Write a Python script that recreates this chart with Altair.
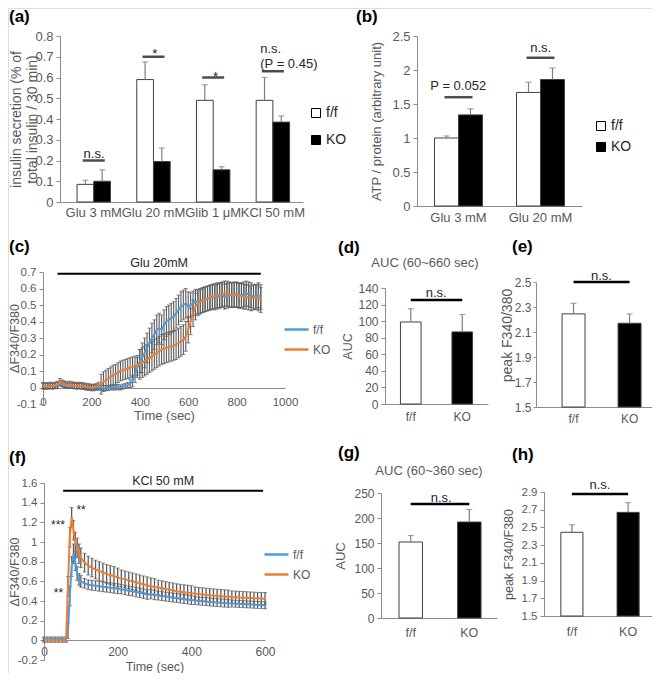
import altair as alt
import pandas as pd

FONT = "Liberation Sans"
TXT = "#595959"
DARK = "#262626"
AXC = "#8C8C8C"
ERRC = "#7F7F7F"
TSERR = "#5A5A5A"
BARSTROKE = "#404040"
BLUE = "#4C9BE0"
ORANGE = "#ED7D31"
W, H, M = 644, 665, 8
NUM_LABEL = "'' + datum.value"


def c(p):
    return p - M


genotypes = ["f/f", "KO"]
bar_colors = ["#FFFFFF", "#000000"]
line_colors = [BLUE, ORANGE]

# ---------------- (a) insulin secretion ----------------
a_conditions = ["Glu 3 mM", "Glu 20 mM", "Glib 1 \u03bcM", "KCl 50 mM"]
a_ff_mean = [0.085, 0.59, 0.49, 0.49]
a_ff_err = [0.02, 0.085, 0.075, 0.11]
a_ko_mean = [0.10, 0.195, 0.155, 0.385]
a_ko_err = [0.055, 0.065, 0.015, 0.03]
a_yticks = [0, 0.1, 0.2, 0.3, 0.4, 0.5, 0.6, 0.7, 0.8]
a_sig_line_y = [0.20, 0.70, 0.60, 0.63]
a_sig_text = ["n.s.", "*", "*"]
a_sig_text_y = [0.212, 0.692, 0.583]
a_kcl_text = ["n.s.", "(P = 0.45)"]
a_kcl_text_y = [0.716, 0.648]

# ---------------- (b) ATP / protein ----------------
b_conditions = ["Glu 3 mM", "Glu 20 mM"]
b_ff_mean = [1.0, 1.67]
b_ff_err = [0.03, 0.15]
b_ko_mean = [1.34, 1.86]
b_ko_err = [0.09, 0.17]
b_yticks = [0, 0.5, 1, 1.5, 2, 2.5]
b_sig_line_y = [1.60, 2.18]
b_sig_text = ["P = 0.052", "n.s."]
b_sig_text_y = [1.71, 2.26]

# ---------------- (c) Glu 20mM time course (10 s samples) ----------------
c_time = [0, 10, 20, 30, 40, 50, 60, 70, 80, 90,
          100, 110, 120, 130, 140, 150, 160, 170, 180, 190,
          200, 210, 220, 230, 240, 250, 260, 270, 280, 290,
          300, 310, 320, 330, 340, 350, 360, 370, 380, 390,
          400, 410, 420, 430, 440, 450, 460, 470, 480, 490,
          500, 510, 520, 530, 540, 550, 560, 570, 580, 590,
          600, 610, 620, 630, 640, 650, 660, 670, 680, 690,
          700, 710, 720, 730, 740, 750, 760, 770, 780, 790,
          800, 810, 820, 830, 840, 850, 860, 870, 880, 890,
          900]
c_ff = [0.01, 0.012, 0.01, 0.008, 0.01, 0.012, 0.02, 0.025, 0.02, 0.015,
        0.01, 0.012, 0.01, 0.01, 0.01, 0.008, 0.01, 0.005, 0.0, 0.0,
        0.0, 0.002, 0.0, 0.0, 0.0, -0.003, -0.005, -0.003, 0.0, 0.0,
        0.0, 0.002, 0.0, 0.005, 0.01, 0.015, 0.025, 0.04, 0.08, 0.12,
        0.16, 0.18, 0.21, 0.24, 0.27, 0.30, 0.32, 0.35, 0.36, 0.35,
        0.38, 0.40, 0.41, 0.42, 0.43, 0.45, 0.47, 0.49, 0.50, 0.51,
        0.49, 0.50, 0.51, 0.52, 0.52, 0.525, 0.53, 0.535, 0.54, 0.545,
        0.55, 0.545, 0.55, 0.555, 0.56, 0.55, 0.555, 0.56, 0.56, 0.565,
        0.565, 0.56, 0.56, 0.565, 0.57, 0.565, 0.56, 0.55, 0.55, 0.56,
        0.55]
c_ff_err = [0.015, 0.015, 0.015, 0.015, 0.015, 0.015, 0.015, 0.015, 0.015, 0.015,
            0.015, 0.015, 0.015, 0.015, 0.015, 0.015, 0.015, 0.015, 0.015, 0.015,
            0.015, 0.015, 0.015, 0.015, 0.015, 0.015, 0.015, 0.015, 0.015, 0.015,
            0.015, 0.015, 0.015, 0.015, 0.015, 0.015, 0.025, 0.035, 0.05, 0.06,
            0.07, 0.09, 0.09, 0.09, 0.09, 0.09, 0.09, 0.09, 0.09, 0.09,
            0.09, 0.09, 0.09, 0.09, 0.09, 0.09, 0.09, 0.09, 0.09, 0.09,
            0.09, 0.075, 0.075, 0.075, 0.075, 0.075, 0.075, 0.075, 0.075, 0.075,
            0.075, 0.075, 0.075, 0.075, 0.075, 0.075, 0.075, 0.075, 0.075, 0.075,
            0.075, 0.075, 0.075, 0.075, 0.075, 0.075, 0.075, 0.075, 0.075, 0.075,
            0.075]
c_ko = [0.01, 0.008, 0.01, 0.012, 0.01, 0.012, 0.015, 0.035, 0.025, 0.02,
        0.015, 0.018, 0.015, 0.012, 0.01, 0.012, 0.01, 0.008, 0.005, 0.003,
        0.0, 0.0, 0.005, 0.012, 0.02, 0.035, 0.045, 0.055, 0.065, 0.075,
        0.08, 0.09, 0.10, 0.105, 0.11, 0.115, 0.12, 0.125, 0.13, 0.135,
        0.14, 0.15, 0.16, 0.17, 0.18, 0.19, 0.20, 0.21, 0.22, 0.23,
        0.235, 0.24, 0.245, 0.25, 0.255, 0.26, 0.27, 0.28, 0.29, 0.31,
        0.35, 0.40, 0.45, 0.49, 0.51, 0.52, 0.53, 0.535, 0.54, 0.545,
        0.55, 0.555, 0.56, 0.56, 0.565, 0.57, 0.57, 0.565, 0.56, 0.56,
        0.56, 0.555, 0.555, 0.55, 0.55, 0.545, 0.54, 0.545, 0.55, 0.54,
        0.53]
c_ko_err = [0.02, 0.02, 0.02, 0.02, 0.02, 0.02, 0.02, 0.02, 0.02, 0.02,
            0.02, 0.02, 0.02, 0.02, 0.02, 0.02, 0.02, 0.02, 0.02, 0.02,
            0.02, 0.02, 0.02, 0.02, 0.06, 0.06, 0.06, 0.06, 0.06, 0.06,
            0.06, 0.06, 0.06, 0.06, 0.06, 0.06, 0.06, 0.06, 0.06, 0.06,
            0.09, 0.09, 0.09, 0.09, 0.09, 0.09, 0.09, 0.09, 0.09, 0.09,
            0.09, 0.09, 0.09, 0.09, 0.09, 0.09, 0.09, 0.09, 0.09, 0.09,
            0.08, 0.08, 0.08, 0.08, 0.075, 0.075, 0.075, 0.075, 0.075, 0.075,
            0.075, 0.075, 0.075, 0.075, 0.075, 0.075, 0.075, 0.075, 0.075, 0.075,
            0.075, 0.075, 0.075, 0.075, 0.075, 0.075, 0.075, 0.075, 0.075, 0.075,
            0.075]
c_xticks = [0, 200, 400, 600, 800, 1000]
c_yticks = [-0.1, 0, 0.1, 0.2, 0.3, 0.4, 0.5, 0.6, 0.7]
c_stim_label = "Glu 20mM"
c_stim_t = [60, 900]
c_stim_y = 0.69

# ---------------- (d) AUC 60~660 ----------------
d_mean = [99, 87]
d_err = [16, 21]
d_yticks = [0, 20, 40, 60, 80, 100, 120, 140]
d_sig_y = 125.5
d_sig_text_y = 128.7

# ---------------- (e) peak ----------------
e_mean = [2.245, 2.17]
e_err = [0.085, 0.075]
e_yticks = [1.5, 1.7, 1.9, 2.1, 2.3, 2.5]
e_sig_y = 2.5
e_sig_text_y = 2.516

# ---------------- (f) KCl 50 mM time course ----------------
f_time = [0, 10, 20, 30, 40, 50, 60, 65, 70, 75, 80, 85, 90, 95, 100,
          110, 120, 130, 140, 150, 160, 170, 180, 190, 200,
          210, 220, 230, 240, 250, 260, 270, 280, 290, 300,
          310, 320, 330, 340, 350, 360, 370, 380, 390, 400,
          410, 420, 430, 440, 450, 460, 470, 480, 490, 500,
          510, 520, 530, 540, 550, 560, 570, 580, 590, 600]
f_ff = [0.015, 0.015, 0.015, 0.015, 0.015, 0.015, 0.015, 0.10, 0.45, 0.75, 0.88, 0.80, 0.68, 0.62, 0.60,
        0.58, 0.565, 0.56, 0.555, 0.55, 0.545, 0.54, 0.535, 0.53, 0.525,
        0.52, 0.512, 0.505, 0.498, 0.49, 0.483, 0.475, 0.465, 0.47, 0.462,
        0.455, 0.45, 0.445, 0.44, 0.435, 0.43, 0.425, 0.42, 0.415, 0.41,
        0.405, 0.40, 0.397, 0.394, 0.39, 0.387, 0.384, 0.381, 0.378, 0.376,
        0.374, 0.372, 0.37, 0.368, 0.366, 0.364, 0.362, 0.36, 0.358, 0.356]
f_ff_err = [0.02, 0.02, 0.02, 0.02, 0.02, 0.02, 0.02, 0.08, 0.1, 0.1, 0.1, 0.09, 0.07, 0.06, 0.06,
            0.05, 0.05, 0.05, 0.05, 0.05, 0.05, 0.05, 0.05, 0.05, 0.05,
            0.048, 0.048, 0.048, 0.048, 0.048, 0.048, 0.048, 0.048, 0.048, 0.048,
            0.045, 0.045, 0.045, 0.045, 0.045, 0.045, 0.045, 0.045, 0.045, 0.045,
            0.04, 0.04, 0.04, 0.04, 0.04, 0.04, 0.04, 0.04, 0.04, 0.04,
            0.035, 0.035, 0.035, 0.035, 0.035, 0.035, 0.035, 0.035, 0.035, 0.035]
f_ko = [0.0, 0.0, 0.0, 0.0, 0.0, 0.0, 0.0, 0.55, 1.05, 1.25, 1.12, 1.0, 0.94, 0.88, 0.84,
        0.79, 0.76, 0.74, 0.72, 0.705, 0.69, 0.675, 0.665, 0.655, 0.64,
        0.63, 0.62, 0.61, 0.60, 0.59, 0.58, 0.57, 0.56, 0.55, 0.542,
        0.537, 0.53, 0.522, 0.515, 0.508, 0.50, 0.495, 0.49, 0.485, 0.48,
        0.475, 0.47, 0.466, 0.462, 0.458, 0.455, 0.452, 0.449, 0.446, 0.443,
        0.44, 0.438, 0.436, 0.434, 0.432, 0.43, 0.428, 0.426, 0.425, 0.424]
f_ko_err = [0.02, 0.02, 0.02, 0.02, 0.02, 0.02, 0.02, 0.1, 0.1, 0.1, 0.1, 0.1, 0.1, 0.1, 0.1,
            0.095, 0.095, 0.095, 0.095, 0.095, 0.095, 0.095, 0.095, 0.095, 0.095,
            0.085, 0.085, 0.085, 0.085, 0.085, 0.085, 0.085, 0.085, 0.085, 0.085,
            0.075, 0.075, 0.075, 0.075, 0.075, 0.075, 0.075, 0.075, 0.075, 0.075,
            0.068, 0.068, 0.068, 0.068, 0.068, 0.068, 0.068, 0.068, 0.068, 0.068,
            0.062, 0.062, 0.062, 0.062, 0.062, 0.062, 0.062, 0.062, 0.062, 0.062]
f_xticks = [0, 200, 400, 600]
f_yticks = [-0.2, 0, 0.2, 0.4, 0.6, 0.8, 1, 1.2, 1.4, 1.6]
f_stim_label = "KCl 50 mM"
f_stim_t = [52, 595]
f_stim_y = 1.52
f_star_left_text = ["***", "**"]
f_star_left_t = [57, 52]
f_star_left_y = [1.17, 0.48]
f_star_right_text = ["**"]
f_star_right_t = [88]
f_star_right_y = [1.33]

# ---------------- (g) AUC 60~360 ----------------
g_mean = [152, 192]
g_err = [13, 25]
g_yticks = [0, 50, 100, 150, 200, 250]
g_sig_y = 228
g_sig_text_y = 233

# ---------------- (h) peak ----------------
h_mean = [2.445, 2.67]
h_err = [0.085, 0.11]
h_yticks = [1.5, 1.7, 1.9, 2.1, 2.3, 2.5, 2.7, 2.9]
h_sig_y = 2.877
h_sig_text_y = 2.934


# ======================= helpers =======================
def y_axis(x_page, ticks, title, title_x, title_size, label_size, title_y=None,
           line_height=None, label_pad=3, tick_size=4):
    kw = dict(orient="left", offset=-c(x_page), values=ticks, title=title, titleX=title_x,
              titleFont=FONT, titleFontSize=title_size, titleFontWeight="normal",
              titleColor=TXT, titleBaseline="bottom",
              labelFont=FONT, labelFontSize=label_size, labelColor=TXT,
              labelPadding=label_pad, labelExpr=NUM_LABEL,
              tickSize=tick_size, tickColor=AXC, domainColor=AXC, grid=False)
    if title_y is not None:
        kw["titleY"] = title_y
    if line_height is not None:
        kw["titleLineHeight"] = line_height
    return alt.Axis(**kw)


def x_axis(y_page, label_size, label_pad, ticks=None, title=None, title_size=13, title_y=None):
    kw = dict(orient="bottom", offset=c(y_page) - H, ticks=False, labelAngle=0,
              labelFont=FONT, labelFontSize=label_size, labelColor=TXT,
              labelPadding=label_pad, domainColor=AXC, grid=False)
    if ticks is not None:
        kw["values"] = ticks
        kw["labelFlush"] = False
        kw["labelExpr"] = NUM_LABEL
    if title:
        kw.update(title=title, titleFont=FONT, titleFontSize=title_size,
                  titleFontWeight="normal", titleColor=TXT, titleY=title_y,
                  titleBaseline="top")
    else:
        kw["title"] = None
    return alt.Axis(**kw)


def grouped_bar_units(cats, ff_mean, ff_err, ko_mean, ko_err, xr, pin, pout, align,
                      yr, ydom, yax, xax, legend, cap):
    rows = []
    for i, k in enumerate(cats):
        rows.append({"cond": k, "geno": "f/f", "mean": ff_mean[i], "err": ff_err[i]})
        rows.append({"cond": k, "geno": "KO", "mean": ko_mean[i], "err": ko_err[i]})
    df = pd.DataFrame(rows)
    xs = alt.Scale(domain=cats, range=[c(xr[0]), c(xr[1])], paddingInner=pin,
                   paddingOuter=pout, align=align)
    ys = alt.Scale(domain=ydom, range=[c(yr[0]), c(yr[1])], nice=False, zero=False)
    os_ = alt.Scale(domain=genotypes)
    fs = alt.Scale(domain=genotypes, range=bar_colors)
    base = alt.Chart(df)
    bars = base.mark_bar(stroke=BARSTROKE, strokeWidth=1).encode(
        x=alt.X("cond:N", scale=xs, axis=xax),
        xOffset=alt.XOffset("geno:N", scale=os_),
        y=alt.Y("mean:Q", scale=ys, axis=yax),
        y2=alt.datum(ydom[0]),
        fill=alt.Fill("geno:N", scale=fs, legend=legend),
    )
    ebase = base.transform_calculate(top="datum.mean + datum.err")
    err = ebase.mark_rule(color=ERRC, strokeWidth=1.2).encode(
        x=alt.X("cond:N", scale=xs, axis=None),
        xOffset=alt.XOffset("geno:N", scale=os_),
        y=alt.Y("mean:Q", scale=ys, axis=None),
        y2="top:Q",
    )
    caps = ebase.mark_tick(orient="horizontal", color=ERRC, size=cap, thickness=1.2).encode(
        x=alt.X("cond:N", scale=xs, axis=None),
        xOffset=alt.XOffset("geno:N", scale=os_),
        y=alt.Y("top:Q", scale=ys, axis=None),
    )
    return [bars, err, caps], xs, ys


def single_bar_units(mean, err, xr, pin, pout, align, yr, ydom, yax, xax, cap,
                     sig_y, sig_text_y, text_dx):
    df = pd.DataFrame({"geno": genotypes, "mean": mean, "err": err})
    xs = alt.Scale(domain=genotypes, range=[c(xr[0]), c(xr[1])], paddingInner=pin,
                   paddingOuter=pout, align=align)
    ys = alt.Scale(domain=ydom, range=[c(yr[0]), c(yr[1])], nice=False, zero=False)
    fs = alt.Scale(domain=genotypes, range=bar_colors)
    base = alt.Chart(df)
    bars = base.mark_bar(stroke=BARSTROKE, strokeWidth=1).encode(
        x=alt.X("geno:N", scale=xs, axis=xax),
        y=alt.Y("mean:Q", scale=ys, axis=yax),
        y2=alt.datum(ydom[0]),
        fill=alt.Fill("geno:N", scale=fs, legend=None),
    )
    ebase = base.transform_calculate(top="datum.mean + datum.err")
    errl = ebase.mark_rule(color=ERRC, strokeWidth=1.2).encode(
        x=alt.X("geno:N", scale=xs, axis=None),
        y=alt.Y("mean:Q", scale=ys, axis=None),
        y2="top:Q",
    )
    caps = ebase.mark_tick(orient="horizontal", color=ERRC, size=cap, thickness=1.2).encode(
        x=alt.X("geno:N", scale=xs, axis=None),
        y=alt.Y("top:Q", scale=ys, axis=None),
    )
    sdf = pd.DataFrame({"a": [genotypes[0]], "b": [genotypes[1]], "ly": [sig_y],
                        "ty": [sig_text_y], "txt": ["n.s."]})
    sline = alt.Chart(sdf).mark_rule(color="#000", strokeWidth=2.5).encode(
        x=alt.X("a:N", scale=xs, axis=None),
        x2="b:N",
        y=alt.Y("ly:Q", scale=ys, axis=None),
    )
    stext = alt.Chart(sdf).mark_text(font=FONT, fontSize=13, color=DARK, align="center",
                                     baseline="alphabetic", dx=text_dx).encode(
        x=alt.X("a:N", scale=xs, axis=None),
        y=alt.Y("ty:Q", scale=ys, axis=None),
        text="txt:N",
    )
    return [bars, errl, caps, sline, stext]


def ts_units(t, ff, ffe, ko, koe, xs, ys, xax, yax, legend, stim_t, stim_y, stim_label,
             stim_dy, stim_size, cap=4, err_w=1.2):
    rows = []
    for i in range(len(t)):
        rows.append({"t": t[i], "geno": "f/f", "val": ff[i], "err": ffe[i]})
    for i in range(len(t)):
        rows.append({"t": t[i], "geno": "KO", "val": ko[i], "err": koe[i]})
    df = pd.DataFrame(rows)
    base = alt.Chart(df).transform_calculate(lo="datum.val - datum.err",
                                             hi="datum.val + datum.err")
    errs = base.mark_rule(color=TSERR, strokeWidth=err_w).encode(
        x=alt.X("t:Q", scale=xs, axis=xax),
        y=alt.Y("lo:Q", scale=ys, axis=yax),
        y2="hi:Q",
    )
    cap_lo = base.mark_tick(orient="horizontal", color=TSERR, size=cap, thickness=1).encode(
        x=alt.X("t:Q", scale=xs, axis=None),
        y=alt.Y("lo:Q", scale=ys, axis=None),
    )
    cap_hi = base.mark_tick(orient="horizontal", color=TSERR, size=cap, thickness=1).encode(
        x=alt.X("t:Q", scale=xs, axis=None),
        y=alt.Y("hi:Q", scale=ys, axis=None),
    )
    lines = alt.Chart(df).mark_line(strokeWidth=2).encode(
        x=alt.X("t:Q", scale=xs, axis=None),
        y=alt.Y("val:Q", scale=ys, axis=None),
        color=alt.Color("geno:N", scale=alt.Scale(domain=genotypes, range=line_colors),
                        legend=legend),
        order="t:Q",
    )
    sdf = pd.DataFrame({"s": [stim_t[0]], "e": [stim_t[1]], "lev": [stim_y],
                        "label": [stim_label]})
    stim = alt.Chart(sdf).mark_rule(color="#000", strokeWidth=2).encode(
        x=alt.X("s:Q", scale=xs, axis=None),
        x2="e:Q",
        y=alt.Y("lev:Q", scale=ys, axis=None),
    )
    stim_txt = alt.Chart(sdf).transform_calculate(mid="(datum.s + datum.e) / 2").mark_text(
        font=FONT, fontSize=stim_size, color=DARK, baseline="bottom", dy=stim_dy).encode(
        x=alt.X("mid:Q", scale=xs, axis=None),
        y=alt.Y("lev:Q", scale=ys, axis=None),
        text="label:N",
    )
    return [errs, cap_lo, cap_hi, lines, stim, stim_txt]


def abs_text(txt, x, y, size, weight="normal", align="left", color=DARK):
    return alt.Chart(alt.Data(values=[{}])).mark_text(
        text=txt, font=FONT, fontSize=size, fontWeight=weight, align=align,
        baseline="middle", color=color,
    ).encode(x=alt.value(c(x)), y=alt.value(c(y)))


def fill_legend(xp, yp, row_pad, size=14):
    return alt.Legend(orient="none", legendX=c(xp), legendY=c(yp), title=None,
                      symbolType="square", symbolSize=81, symbolStrokeColor="#000",
                      symbolStrokeWidth=1, labelFont=FONT, labelFontSize=size,
                      labelColor=DARK, rowPadding=row_pad, labelOffset=3)


def line_legend(xp, yp, row_pad, size=12):
    return alt.Legend(orient="none", legendX=c(xp), legendY=c(yp), title=None,
                      symbolType="stroke", symbolSize=576, symbolStrokeWidth=2.5,
                      labelFont=FONT, labelFontSize=size, labelColor=TXT,
                      rowPadding=row_pad, labelOffset=3)


units = []

# ======================= panel (a) =======================
a_units, a_xs, a_ys = grouped_bar_units(
    a_conditions, a_ff_mean, a_ff_err, a_ko_mean, a_ko_err,
    xr=[60, 303], pin=0.44, pout=0.255, align=0.56, yr=[202, 36], ydom=[0, 0.8],
    yax=y_axis(60, a_yticks, ["insulin secretion (% of", "total insulin / 30 min)"],
               -37, 14, 13, line_height=16),
    xax=x_axis(202, 13, 4),
    legend=fill_legend(309, 106, 13), cap=6)
units += a_units
a_sig = pd.DataFrame({"cond": a_conditions, "ly": a_sig_line_y})
units.append(alt.Chart(a_sig).mark_tick(orient="horizontal", color="#000", size=22,
                                        thickness=2.5).encode(
    x=alt.X("cond:N", scale=a_xs, axis=None), y=alt.Y("ly:Q", scale=a_ys, axis=None)))
a_sig_t = pd.DataFrame({"cond": a_conditions[:3], "ty": a_sig_text_y, "txt": a_sig_text})
units.append(alt.Chart(a_sig_t).mark_text(font=FONT, fontSize=13, color=DARK,
                                          baseline="alphabetic").encode(
    x=alt.X("cond:N", scale=a_xs, axis=None), y=alt.Y("ty:Q", scale=a_ys, axis=None),
    text="txt:N"))
a_kcl = pd.DataFrame({"cond": [a_conditions[3]] * 2, "ty": a_kcl_text_y, "txt": a_kcl_text})
units.append(alt.Chart(a_kcl).mark_text(font=FONT, fontSize=13, color=DARK, align="left",
                                        baseline="alphabetic", dx=-16).encode(
    x=alt.X("cond:N", scale=a_xs, axis=None), y=alt.Y("ty:Q", scale=a_ys, axis=None),
    text="txt:N"))

# ======================= panel (b) =======================
b_units, b_xs, b_ys = grouped_bar_units(
    b_conditions, b_ff_mean, b_ff_err, b_ko_mean, b_ko_err,
    xr=[417, 582], pin=0.415, pout=0.2135, align=0.5, yr=[206, 36], ydom=[0, 2.5],
    yax=y_axis(417, b_yticks, "ATP / protein (arbitrary unit)", -34, 13, 13),
    xax=x_axis(206, 13, 5),
    legend=fill_legend(594, 119, 7), cap=6)
units += b_units
b_sig = pd.DataFrame({"cond": b_conditions, "ly": b_sig_line_y, "ty": b_sig_text_y,
                      "txt": b_sig_text})
units.append(alt.Chart(b_sig).mark_tick(orient="horizontal", color="#000", size=28,
                                        thickness=2.5).encode(
    x=alt.X("cond:N", scale=b_xs, axis=None), y=alt.Y("ly:Q", scale=b_ys, axis=None)))
units.append(alt.Chart(b_sig).mark_text(font=FONT, fontSize=13, color=DARK,
                                        baseline="alphabetic").encode(
    x=alt.X("cond:N", scale=b_xs, axis=None), y=alt.Y("ty:Q", scale=b_ys, axis=None),
    text="txt:N"))

# ======================= panel (c) =======================
c_xs = alt.Scale(domain=[0, 1000], range=[c(43), c(285)], nice=False, zero=False)
c_ys = alt.Scale(domain=[-0.1, 0.7], range=[c(404), c(272)], nice=False, zero=False)
units += ts_units(
    c_time, c_ff, c_ff_err, c_ko, c_ko_err, c_xs, c_ys,
    xax=x_axis(388, 11.5, 8, ticks=c_xticks, title="Time (sec)", title_size=13, title_y=21),
    yax=y_axis(43, c_yticks, "\u0394F340/F380", -22, 12.5, 11.5),
    legend=line_legend(283, 316, -2, 12),
    stim_t=c_stim_t, stim_y=c_stim_y, stim_label=c_stim_label, stim_dy=-4, stim_size=12.5,
    err_w=1.1)

# ======================= panel (d) =======================
units += single_bar_units(
    d_mean, d_err, xr=[385, 488], pin=0.6, pout=0.3, align=0.5, yr=[404, 288],
    ydom=[0, 140],
    yax=y_axis(385, d_yticks, "AUC", -31, 12.5, 12),
    xax=x_axis(404, 12, 7), cap=6, sig_y=d_sig_y, sig_text_y=d_sig_text_y, text_dx=25.5)

# ======================= panel (e) =======================
units += single_bar_units(
    e_mean, e_err, xr=[536, 657], pin=0.59, pout=0.375, align=0.62, yr=[407, 282],
    ydom=[1.5, 2.5],
    yax=y_axis(536, e_yticks, "peak F340/380", -22, 14, 12, title_y=c(335),
               label_pad=2, tick_size=3),
    xax=x_axis(407, 12, 6), cap=6, sig_y=e_sig_y, sig_text_y=e_sig_text_y, text_dx=28)

# ======================= panel (f) =======================
f_xs = alt.Scale(domain=[0, 600], range=[c(44), c(265)], nice=False, zero=False)
f_ys = alt.Scale(domain=[-0.2, 1.6], range=[c(660), c(483)], nice=False, zero=False)
units += ts_units(
    f_time, f_ff, f_ff_err, f_ko, f_ko_err, f_xs, f_ys,
    xax=x_axis(640, 12, 6, ticks=f_xticks, title="Time (sec)", title_size=12.5, title_y=20),
    yax=y_axis(44, f_yticks, "\u0394F340/F380", -23, 12.5, 11.5),
    legend=line_legend(263, 541, -4, 12),
    stim_t=f_stim_t, stim_y=f_stim_y, stim_label=f_stim_label, stim_dy=-3, stim_size=12.5,
    err_w=1.3)
f_sl = pd.DataFrame({"t": f_star_left_t, "y": f_star_left_y, "txt": f_star_left_text})
f_sr = pd.DataFrame({"t": f_star_right_t, "y": f_star_right_y, "txt": f_star_right_text})
units.append(alt.Chart(f_sl).mark_text(font=FONT, fontSize=12, color=DARK, align="right",
                                       baseline="middle").encode(
    x=alt.X("t:Q", scale=f_xs, axis=None), y=alt.Y("y:Q", scale=f_ys, axis=None),
    text="txt:N"))
units.append(alt.Chart(f_sr).mark_text(font=FONT, fontSize=12, color=DARK, align="left",
                                       baseline="middle").encode(
    x=alt.X("t:Q", scale=f_xs, axis=None), y=alt.Y("y:Q", scale=f_ys, axis=None),
    text="txt:N"))

# ======================= panel (g) =======================
units += single_bar_units(
    g_mean, g_err, xr=[381, 497], pin=0.6, pout=0.29, align=0.53, yr=[618, 493],
    ydom=[0, 250],
    yax=y_axis(381, g_yticks, "AUC", -34, 13, 12),
    xax=x_axis(618, 12.5, 8), cap=6, sig_y=g_sig_y, sig_text_y=g_sig_text_y, text_dx=29.5)

# ======================= panel (h) =======================
units += single_bar_units(
    h_mean, h_err, xr=[544, 656], pin=0.607, pout=0.30, align=0.5, yr=[616, 492],
    ydom=[1.5, 2.9],
    yax=y_axis(544, h_yticks, "peak F340/F380", -29, 12.5, 11.5),
    xax=x_axis(616, 12.5, 9), cap=6, sig_y=h_sig_y, sig_text_y=h_sig_text_y, text_dx=28)

# ======================= labels =======================
units += [
    abs_text("(a)", 9, 17, 17, "bold", color="#000"),
    abs_text("(b)", 356, 17, 17, "bold", color="#000"),
    abs_text("(c)", 9, 247, 17, "bold", color="#000"),
    abs_text("(d)", 338, 248, 17, "bold", color="#000"),
    abs_text("(e)", 512, 247, 17, "bold", color="#000"),
    abs_text("(f)", 9, 458, 17, "bold", color="#000"),
    abs_text("(g)", 338, 453, 17, "bold", color="#000"),
    abs_text("(h)", 512, 455, 17, "bold", color="#000"),
    abs_text("AUC (60~660 sec)", 425, 263, 13, align="center", color=TXT),
    abs_text("AUC (60~360 sec)", 429, 471, 13, align="center", color=TXT),
]

chart = alt.layer(*units).resolve_scale(
    x="independent", y="independent", xOffset="independent",
    fill="independent", color="independent",
).resolve_axis(
    x="independent", y="independent",
).resolve_legend(
    fill="independent", color="independent",
).properties(
    width=W, height=H, padding=0, autosize=alt.AutoSizeParams(type="none"),
    background="#FFFFFF",
).configure_view(stroke=None).configure(font=FONT)

chart.save("out.html", embed_options={"renderer": "svg", "actions": False})
